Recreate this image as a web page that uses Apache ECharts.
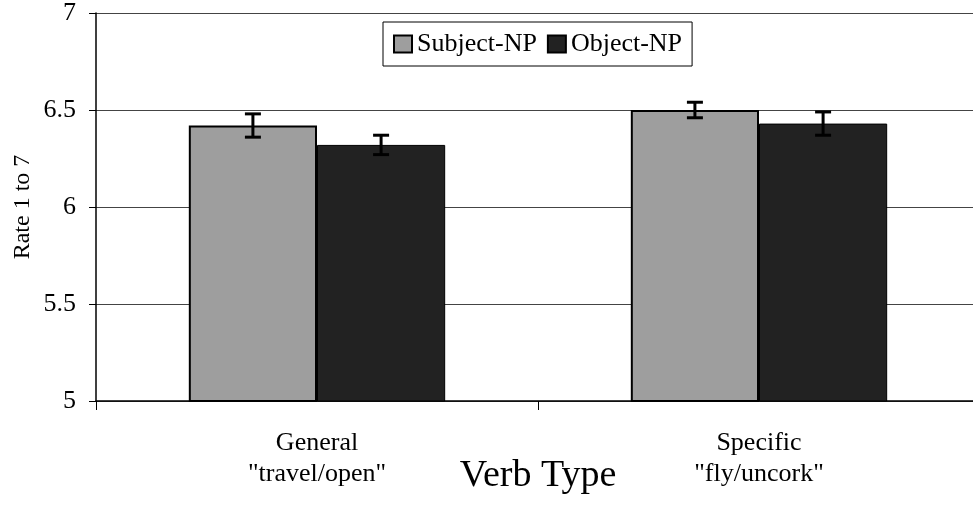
<!DOCTYPE html>
<html>
<head>
<meta charset="utf-8">
<script src="https://cdn.jsdelivr.net/npm/echarts@6/dist/echarts.min.js"></script>
<style>
  html, body { margin: 0; padding: 0; background: #fff; }
  #c1 { width: 973px; height: 512px; }
</style>
</head>
<body>
<div id="c1"></div>
<script>
// data
const categories = ['General\n"travel/open"', 'Specific\n"fly/uncork"'];
const subjectNP = [6.42, 6.5];
const objectNP = [6.32, 6.43];
const subjectErr = [0.06, 0.04];
const objectErr = [0.05, 0.06];

const serif = "'Liberation Serif', 'Times New Roman', serif";

// error bar rows: [category, mean, err, side]
let errRows = [];
categories.forEach(function (c, i) {
  errRows.push([i, subjectNP[i], subjectErr[i], -1]);
  errRows.push([i, objectNP[i], objectErr[i], 1]);
});

function drawErr(params, api) {
  let cat = api.value(0), mean = api.value(1), err = api.value(2), side = api.value(3);
  let band = api.size([1, 0])[0];
  let x = api.coord([cat, mean])[0] + side * band * 0.145;
  let yTop = api.coord([cat, mean + err])[1];
  let yBot = api.coord([cat, mean - err])[1];
  let half = 8;
  let st = { stroke: '#000', lineWidth: 3 };
  return {
    type: 'group',
    children: [
      { type: 'line', shape: { x1: x, y1: yTop, x2: x, y2: yBot }, style: st },
      { type: 'line', shape: { x1: x - half, y1: yTop, x2: x + half, y2: yTop }, style: st },
      { type: 'line', shape: { x1: x - half, y1: yBot, x2: x + half, y2: yBot }, style: st }
    ]
  };
}

let myChart = echarts.init(document.getElementById('c1'));
let option = {
  backgroundColor: '#fff',
  animation: false,
  grid: { left: 96, top: 13, width: 884, height: 388, outerBoundsMode: 'none' },
  legend: {
    left: 383,
    top: 22,
    padding: [9, 10, 9, 10],
    borderColor: '#000',
    borderWidth: 1,
    icon: 'rect',
    itemWidth: 18,
    itemHeight: 17,
    itemGap: 10,
    textStyle: { fontFamily: serif, fontSize: 26, color: '#000' },
    data: ['Subject-NP', 'Object-NP']
  },
  xAxis: {
    type: 'category',
    data: categories,
    name: 'Verb Type',
    nameLocation: 'middle',
    nameGap: 56,
    nameMoveOverlap: false,
    nameTextStyle: { fontFamily: serif, fontSize: 38, color: '#000' },
    axisLine: { lineStyle: { color: '#000', width: 1.5 } },
    axisTick: { show: true, length: 9, lineStyle: { color: '#000' } },
    axisLabel: {
      margin: 27,
      fontFamily: serif,
      fontSize: 26,
      lineHeight: 31,
      color: '#000'
    }
  },
  yAxis: {
    type: 'value',
    min: 5,
    max: 7,
    interval: 0.5,
    name: 'Rate 1 to 7',
    nameLocation: 'middle',
    nameGap: 61,
    nameMoveOverlap: false,
    nameTextStyle: { fontFamily: serif, fontSize: 24, color: '#000' },
    axisLine: { show: true, lineStyle: { color: '#000', width: 1.5 } },
    axisTick: { show: true, length: 7, lineStyle: { color: '#000' } },
    axisLabel: { margin: 20, fontFamily: serif, fontSize: 26, color: '#000' },
    splitLine: { lineStyle: { color: '#444', width: 1 } }
  },
  series: [
    {
      name: 'Subject-NP',
      type: 'bar',
      data: subjectNP,
      barWidth: '29%',
      barGap: '0%',
      itemStyle: { color: '#9e9e9e', borderColor: '#000', borderWidth: 2 }
    },
    {
      name: 'Object-NP',
      type: 'bar',
      data: objectNP,
      barWidth: '29%',
      itemStyle: { color: '#222', borderColor: '#000', borderWidth: 1 }
    },
    {
      type: 'custom',
      renderItem: drawErr,
      data: errRows,
      z: 5,
      silent: true
    }
  ]
};
myChart.setOption(option);
</script>
</body>
</html>
